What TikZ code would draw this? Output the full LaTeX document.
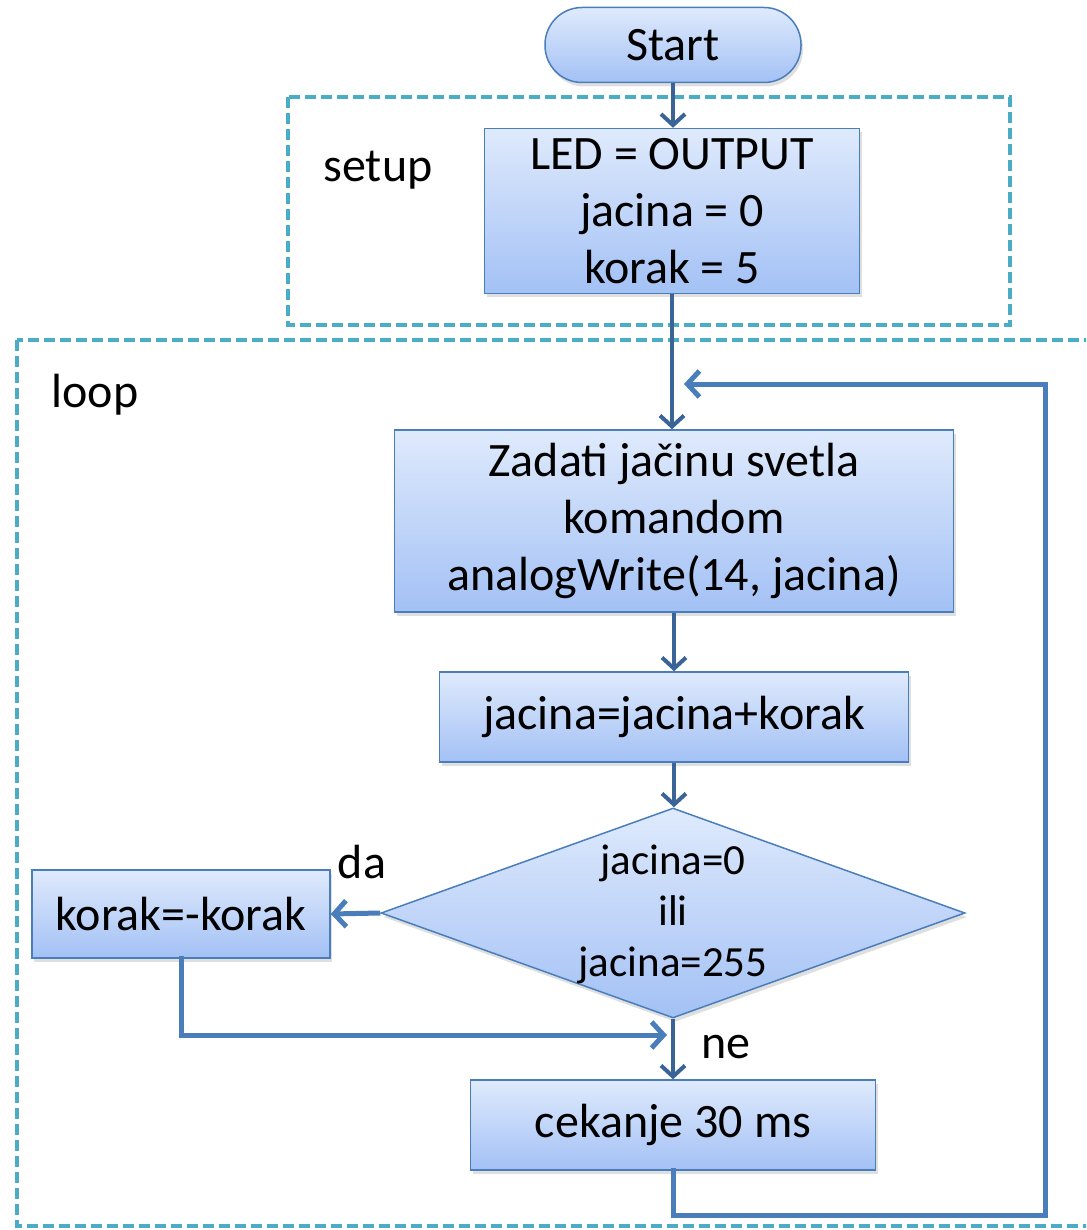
\documentclass[tikz,border=0pt]{standalone}
\usepackage{fontspec}
\setmainfont{Carlito}
\usetikzlibrary{arrows.meta,shapes.geometric,shadows}

\definecolor{boxtop}{HTML}{DFEAFC}
\definecolor{boxbot}{HTML}{A3C1F5}
\definecolor{boxedge}{HTML}{4A7EBB}
\definecolor{flowdark}{HTML}{3A6398}
\definecolor{flowmid}{HTML}{4A7EBB}
\definecolor{groupedge}{HTML}{4BACC6}

\tikzset{
  txt/.style={font=\fontsize{48}{57}\selectfont},
  smalltxt/.style={font=\fontsize{43}{51}\selectfont},
  procbox/.style={draw=boxedge, line width=1.5pt, top color=boxtop, bottom color=boxbot,
    align=center, inner sep=0pt, txt,
    drop shadow={shadow xshift=2pt, shadow yshift=-4pt, opacity=0.25}},
  terminal/.style={procbox, rounded corners=37pt},
  decision/.style={shape=diamond, draw=boxedge, line width=1.5pt, top color=boxtop,
    bottom color=boxbot, inner sep=0pt,
    drop shadow={shadow xshift=2pt, shadow yshift=-4pt, opacity=0.25}},
  group/.style={draw=groupedge, line width=3.5pt, dash pattern=on 11pt off 5pt},
  flow/.style={draw=flowdark, line width=4pt,
    -{Straight Barb[length=11pt,width=24pt,line width=4pt]}},
  flowthick/.style={draw=flowmid, line width=5pt,
    -{Straight Barb[length=12pt,width=26pt,line width=5pt]}},
  plainline/.style={draw=flowmid, line width=5pt, line cap=rect},
}

\begin{document}
\begin{tikzpicture}[x=1pt, y=-1pt]
  \clip (0,0) rectangle (1086,1230);

  % group frames
  \draw[group] (288,97) rectangle (1010,325);
  \draw[group] (17,340) rectangle (1110,1226);
  \node[txt, anchor=center] (setuplbl) at (378,170) {setup};
  \node[txt, anchor=center] (looplbl) at (95,395) {loop};

  % nodes
  \node[terminal, minimum width=256pt, minimum height=75pt] (start) at (673,45) {Start};
  \node[procbox, minimum width=375pt, minimum height=165pt] (init) at (672,211)
    {LED = OUTPUT\\jacina = 0\\korak = 5};
  \node[procbox, minimum width=559pt, minimum height=182pt] (write) at (674,521)
    {Zadati jačinu svetla\\komandom\\analogWrite(14, jacina)};
  \node[procbox, minimum width=469pt, minimum height=90pt] (step) at (674,717)
    {jacina=jacina+korak};
  \node[decision, minimum width=584pt, minimum height=210pt] (cond) at (673,913) {};
  \node[smalltxt, align=center] (condtxt) at (673,914) {jacina=0\\ili\\jacina=255};
  \node[procbox, minimum width=298pt, minimum height=88pt] (flip) at (181,914)
    {korak=-korak};
  \node[procbox, minimum width=405pt, minimum height=90pt] (wait) at (673,1125)
    {cekanje 30 ms};

  \node[txt] (dalbl) at (362,862) {da};
  \node[txt] (nelbl) at (726,1047) {ne};

  % helper points
  \coordinate (join) at (667,1035);
  \coordinate (back) at (684,384);
  \coordinate (loopbot) at (1045,1215);
  \coordinate (looptop) at (1045,384);

  % connectors
  \draw[flow] (start.south) -- (start.south |- init.north);
  \draw[flow] (init.south) -- (init.south |- write.north);
  \draw[flow] (write.south) -- (step.north);
  \draw[flow] (step.south) -- (step.south |- cond.north);
  \draw[flowthick] (cond.west) -- (flip.east);
  \draw[flow, line width=3.5pt] (cond.south) -- (wait.north);
  \draw[plainline, -{Straight Barb[length=12pt,width=26pt,line width=5pt]}]
    (flip.south) |- (join);
  \draw[plainline] (wait.south) |- (loopbot) -- (looptop);
  \draw[flowthick] (looptop) -- (back);
\end{tikzpicture}
\end{document}
